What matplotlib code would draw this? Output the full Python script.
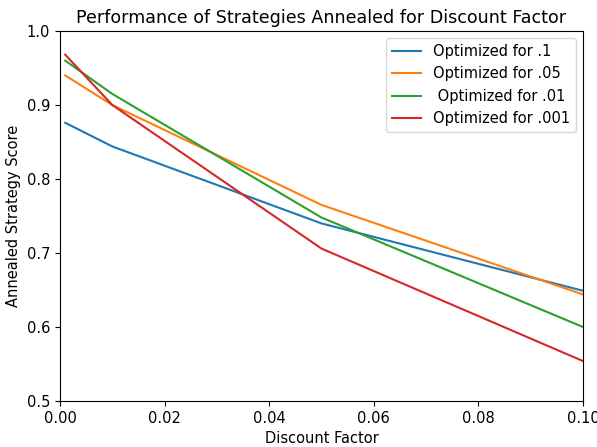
import matplotlib
matplotlib.use("Agg")
from matplotlib import pyplot as plt

discount = [0.001, 0.01, 0.05, 0.1]
opt_1 = [0.876, 0.844, 0.740, 0.649]
opt_05 = [0.940, 0.900, 0.765, 0.644]
opt_01 = [0.960, 0.915, 0.748, 0.600]
opt_001 = [0.968, 0.900, 0.706, 0.554]
labels = ["Optimized for .1", "Optimized for .05", " Optimized for .01", "Optimized for .001"]

plt.rcParams['font.size'] = 10.5

fig, ax = plt.subplots(figsize=(5.97, 4.47), dpi=100)
for series, label in zip([opt_1, opt_05, opt_01, opt_001], labels):
    ax.plot(discount, series, label=label)
ax.set_xlim(0, 0.1)
ax.set_ylim(0.5, 1.0)
ax.set_xlabel("Discount Factor")
ax.set_ylabel("Annealed Strategy Score")
ax.set_title("Performance of Strategies Annealed for Discount Factor", fontsize=12.6)
ax.legend(loc="upper right")
fig.subplots_adjust(left=0.1005, right=0.9765, top=0.9306, bottom=0.1029)
fig.savefig("out.png")
